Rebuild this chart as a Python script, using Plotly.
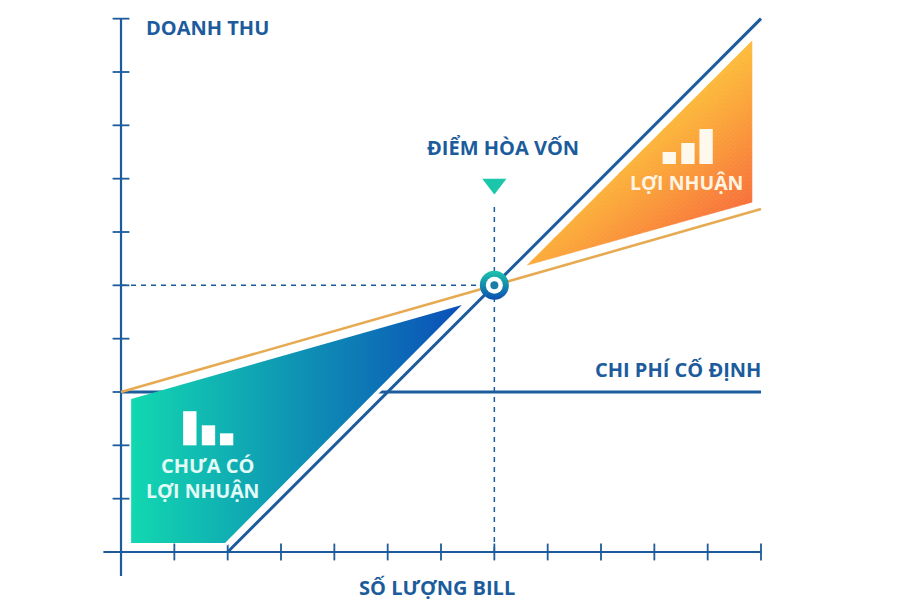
import plotly.graph_objects as go

# Chart values, in axis units (one tick = one unit)
x_ticks = list(range(1, 13))
y_ticks = list(range(1, 11))
x_axis_span = [-0.33, 12]
y_axis_span = [-0.45, 10]

revenue_x = [2, 12]
revenue_y = [0, 10]
cost_x = [0, 12]
cost_y = [3, 6.43]
fixed_x = [0, 12]
fixed_y = [3, 3]
breakeven_x = 7
breakeven_y = 5
guide_top = 6.5
arrow_y = 6.9

loss_x = [0.19, 6.39, 1.95, 0.19, 0.19]
loss_y = [2.87, 4.63, 0.17, 0.17, 2.87]
profit_x = [7.62, 11.83, 11.83]
profit_y = [5.38, 9.58, 6.56]

loss_bar_x = [1.29, 1.64, 1.98]
loss_bar_h = [0.64, 0.375, 0.225]
loss_bar_base = 2.0
profit_bar_x = [10.28, 10.63, 10.97]
profit_bar_h = [0.225, 0.394, 0.656]
profit_bar_base = 7.275

NAVY = "#1c5c9c"
ORANGE = "#e6aa52"
TEAL = "#1cc6aa"
FONT = "Open Sans"

fig = go.Figure()


def line(x, y, color=NAVY, width=2.5, dash="solid"):
    fig.add_trace(go.Scatter(x=x, y=y, mode="lines", hoverinfo="skip",
                             line=dict(color=color, width=width, dash=dash)))


def clip(points, f):
    """Keep the part of a polygon where f(point) >= 0."""
    out = []
    for i, p in enumerate(points):
        q = points[(i + 1) % len(points)]
        fp, fq = f(p), f(q)
        if fp >= 0:
            out.append(p)
        if (fp >= 0) != (fq >= 0):
            k = fp / (fp - fq)
            out.append((p[0] + k * (q[0] - p[0]), p[1] + k * (q[1] - p[1])))
    return out


def mix(stops, t):
    for (t0, c0), (t1, c1) in zip(stops, stops[1:]):
        if t <= t1:
            k = (t - t0) / (t1 - t0)
            return "rgb(%d,%d,%d)" % tuple(round(a + k * (b - a)) for a, b in zip(c0, c1))
    return "rgb(%d,%d,%d)" % stops[-1][1]


# Axes and ticks
line(x_axis_span, [0, 0], width=2.2)
line([0, 0], y_axis_span, width=2.2)
fig.add_trace(go.Scatter(x=x_ticks, y=[0] * len(x_ticks), mode="markers", hoverinfo="skip",
                         marker=dict(symbol="line-ns", size=12, line=dict(color=NAVY, width=1.8))))
fig.add_trace(go.Scatter(x=[0] * len(y_ticks), y=y_ticks, mode="markers", hoverinfo="skip",
                         marker=dict(symbol="line-ew", size=12, line=dict(color=NAVY, width=1.8))))

# Guides
line([0, breakeven_x], [breakeven_y, breakeven_y], width=1.5, dash="5px,5px")
line([breakeven_x, breakeven_x], [0, guide_top], width=1.5, dash="5px,5px")

# Fixed cost (passes behind the loss area)
line(fixed_x, fixed_y, width=3)

# White halo along the sloped edge of the loss area, then the area itself
line(loss_x[1:3], loss_y[1:3], color="white", width=7)
fig.add_trace(go.Scatter(x=loss_x, y=loss_y, mode="lines", fill="toself", hoverinfo="skip",
                         line=dict(color="rgba(0,0,0,0)", width=0),
                         fillgradient=dict(type="horizontal",
                                           colorscale=[[0, "#12d8b0"], [1, "#0b4fb8"]])))

# Profit area: diagonal gradient drawn as thin bands cut from the polygon
profit_poly = list(zip(profit_x, profit_y))
STOPS = [(0.0, (253, 189, 60)), (0.3, (251, 168, 58)), (1.0, (248, 112, 58))]


def grad(p):
    return 0.27 * (p[0] - profit_x[1]) - 0.331 * (p[1] - profit_y[1])


BANDS = 40
for b in range(BANDS):
    lo, hi = b / BANDS, (b + 1) / BANDS
    piece = clip(clip(profit_poly, lambda p: grad(p) - lo), lambda p: hi - grad(p))
    if len(piece) < 3:
        continue
    colour = mix(STOPS, (lo + hi) / 2)
    fig.add_trace(go.Scatter(x=[p[0] for p in piece] + [piece[0][0]],
                             y=[p[1] for p in piece] + [piece[0][1]],
                             mode="lines", fill="toself", fillcolor=colour, hoverinfo="skip",
                             line=dict(color=colour, width=0.6)))

# Main lines
line(cost_x, cost_y, color=ORANGE, width=2.6)
line(revenue_x, revenue_y, width=3)

# Small bar icons
fig.add_trace(go.Bar(x=loss_bar_x, y=loss_bar_h, base=loss_bar_base, width=0.25, zorder=5,
                     marker=dict(color="white", line=dict(width=0)), hoverinfo="skip"))
fig.add_trace(go.Bar(x=profit_bar_x, y=profit_bar_h, base=profit_bar_base, width=0.25, zorder=5,
                     marker=dict(color="#fff8ec", line=dict(width=0)), hoverinfo="skip"))

# Break-even marker and arrow
fig.add_trace(go.Scatter(x=[breakeven_x], y=[breakeven_y], mode="markers", hoverinfo="skip",
                         marker=dict(size=29, color=TEAL, line=dict(width=0),
                                     gradient=dict(type="vertical", color="#0b4fb0"))))
fig.add_trace(go.Scatter(x=[breakeven_x], y=[breakeven_y], mode="markers", hoverinfo="skip",
                         marker=dict(size=17, color="white", line=dict(width=0))))
fig.add_trace(go.Scatter(x=[breakeven_x], y=[breakeven_y], mode="markers", hoverinfo="skip",
                         marker=dict(size=8, color="#1a7fa8", line=dict(width=0))))
fig.add_trace(go.Scatter(x=[breakeven_x], y=[arrow_y], mode="markers", hoverinfo="skip",
                         marker=dict(symbol="triangle-down", size=21, color=TEAL, line=dict(width=0))))

labels = [
    ("DOANH THU", 1.63, 9.84, NAVY, 20, "center"),
    ("ĐIỂM HÒA VỐN", 7.16, 7.59, NAVY, 20, "center"),
    ("CHI PHÍ CỐ ĐỊNH", 12.04, 3.42, NAVY, 20, "right"),
    ("SỐ LƯỢNG BILL", 5.92, -0.66, NAVY, 20, "center"),
    ("CHƯA CÓ", 1.63, 1.63, "#e2fbf6", 20, "center"),
    ("LỢI NHUẬN", 1.52, 1.16, "#e2fbf6", 19.5, "center"),
    ("LỢI NHUẬN", 10.61, 6.93, "#fff3e2", 19.5, "center"),
]
for text, x, y, color, size, align in labels:
    fig.add_annotation(x=x, y=y, text=f"<b>{text}</b>", showarrow=False,
                       xanchor=align, yanchor="middle",
                       font=dict(family=FONT, size=size, color=color))

fig.update_layout(
    width=900, height=600, margin=dict(l=0, r=0, t=0, b=0),
    paper_bgcolor="white", plot_bgcolor="white", showlegend=False,
    xaxis=dict(range=[-2.119, 14.756], visible=False, fixedrange=True),
    yaxis=dict(range=[-1.05, 10.2], visible=False, fixedrange=True),
)
fig.write_html("out.html")
